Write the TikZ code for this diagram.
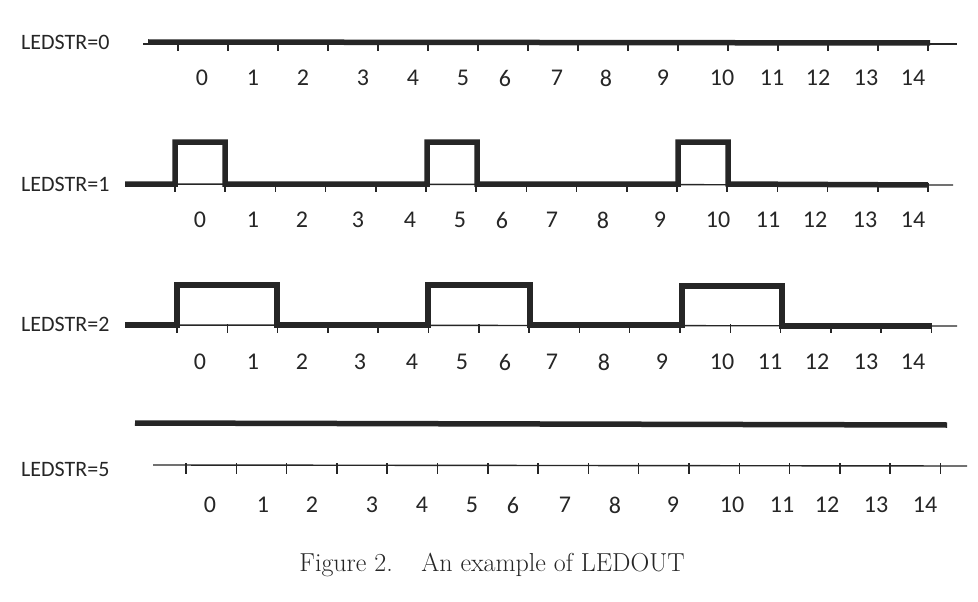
\documentclass[tikz,border=0pt]{standalone}
\usepackage{fontspec}
\newfontfamily\lblfont{Carlito}
\definecolor{ink}{HTML}{262626}
\begin{document}
\begin{tikzpicture}[x=1pt,y=-1pt,
  wave/.style={line width=5.5pt, line join=miter, color=ink},
  axisline/.style={line width=1.4pt, color=ink},
  tickmark/.style={line width=1.5pt, color=ink},
  lbl/.style={font=\lblfont\fontsize{22}{24}\selectfont, text=ink, inner sep=0pt},
  num/.style={font=\lblfont\fontsize{24}{26}\selectfont, text=ink, inner sep=0pt}]
\useasboundingbox (0,0) rectangle (978,602);
\fill[white] (0,0) rectangle (978,602);

% ---- LEDSTR=0
\node[lbl, anchor=west] (l0) at (21,42) {LEDSTR=0};
\draw[axisline] (143,44) -- (957,44);
\foreach \k in {0,...,15} \draw[tickmark] (178+50*\k,44) -- (178+50*\k,51);
\draw[wave] (148,42) -- (930,43);
\foreach \x [count=\i from 0] in {202,253,303,363,413,463,505,557,606,663,722,772,818,866,913}
  \node[num] (a\i) at (\x,78) {\i};

% ---- LEDSTR=1
\node[lbl, anchor=west] (l1) at (21,184) {LEDSTR=1};
\draw[axisline] (125,184) -- (953,185);
\foreach \k in {0,...,15} \draw[tickmark] (175+50.2*\k,183) -- (175+50.2*\k,192);
\draw[wave] (125,184) -- (175,184) -- (175,142) -- (225,142) -- (225,184)
  -- (427,184) -- (427,142) -- (477,142) -- (477,184)
  -- (678,184) -- (678,142) -- (728,142) -- (728,184) -- (928,185);
\foreach \x [count=\i from 0] in {200,253,302,358,410,460,502,552,603,660,718,768,815,865,913}
  \node[num] (b\i) at (\x,220) {\i};

% ---- LEDSTR=2
\node[lbl, anchor=west] (l2) at (21,324) {LEDSTR=2};
\draw[axisline] (125,325) -- (957,326);
\foreach \k in {0,...,15} \draw[tickmark] (177+50.3*\k,324) -- (177+50.3*\k,333);
\draw[wave] (125,325) -- (177,325) -- (177,285) -- (277,285) -- (277,325)
  -- (428,325) -- (428,285) -- (530,285) -- (530,325)
  -- (682,325) -- (682,286) -- (782,286) -- (782,326) -- (932,326);
\foreach \x [count=\i from 0] in {200,253,302,360,412,462,505,552,604,662,722,770,817,866,913}
  \node[num] (c\i) at (\x,362) {\i};

% ---- LEDSTR=5
\draw[wave] (135,423) -- (947,425);
\node[lbl, anchor=west] (l5) at (21,469) {LEDSTR=5};
\draw[axisline] (153,465) -- (967,466);
\foreach \k in {0,...,15} \draw[tickmark] (186+50.3*\k,463) -- (186+50.3*\k,474);
\foreach \x [count=\i from 0] in {210,263,312,372,422,472,513,565,615,673,732,782,827,876,925}
  \node[num] (d\i) at (\x,505) {\i};

% ---- caption
\node[font=\fontsize{26}{30}\selectfont, text=ink, anchor=base, inner sep=0pt] (cap) at (492,571)
  {Figure 2.\hspace{1.1em}An example of LEDOUT};
\end{tikzpicture}
\end{document}
